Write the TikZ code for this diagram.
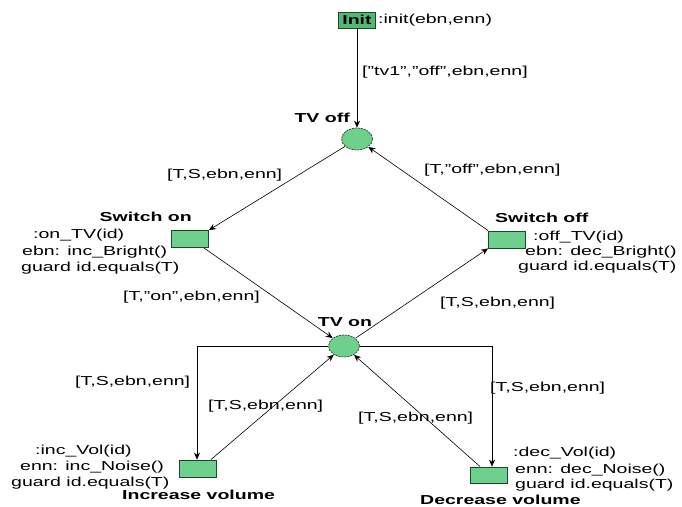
\documentclass[tikz,border=0pt]{standalone}
\usepackage{fontspec}
\setmainfont{Liberation Sans}[FakeStretch=1.5]
\usetikzlibrary{arrows.meta,shapes.geometric}
\definecolor{netgreen}{RGB}{110,208,140}
\definecolor{initgreen}{RGB}{84,184,116}
\definecolor{rimgreen}{RGB}{30,70,40}
\tikzset{
  txt/.style={inner sep=0pt,font=\fontsize{13}{15}\selectfont},
  ttl/.style={txt,font=\fontsize{13}{15}\selectfont\bfseries},
  place/.style={ellipse,draw=rimgreen,line width=0.7pt,fill=netgreen,
    dash pattern=on 2pt off 1pt,
    minimum width=31pt,minimum height=22pt,inner sep=0pt},
  trans/.style={rectangle,draw=rimgreen,line width=0.8pt,fill=netgreen,
    minimum width=37pt,minimum height=17pt,inner sep=0pt},
  arc/.style={draw=black,line width=0.6pt,-{Stealth[length=7pt,width=6pt]}}
}
\begin{document}
\begin{tikzpicture}[x=1pt,y=-1pt]
\useasboundingbox (0,0) rectangle (682,506);

% places
\node[place] (toff) at (357,139) {};
\node[place] (ton)  at (344,346) {};

% transitions
\node[trans,fill=initgreen,minimum height=16pt] (init) at (357,20)
  {\fontsize{13}{15}\selectfont\bfseries Init};
\node[trans] (son)  at (190,239) {};
\node[trans] (soff) at (507,239.5) {};
\node[trans] (inc)  at (198,468.5) {};
\node[trans,minimum height=16pt] (dec) at (489,475) {};

% place titles
\node[ttl,anchor=east] (toffname) at (350,118) {TV off};
\node[ttl] (tonname) at (345,322) {TV on};

% transition inscriptions
\node[txt,anchor=west] (initlbl) at (378,20) {:init(ebn,enn)};

\node[ttl,anchor=east] (sonname) at (192,217) {Switch on};
\node[txt,anchor=west] (son1) at (33,235) {:on\_TV(id)};
\node[txt,anchor=west] (son2) at (22,252) {ebn: inc\_Bright()};
\node[txt,anchor=west] (son3) at (21,268) {guard id.equals(T)};

\node[ttl,anchor=west] (soffname) at (495,218) {Switch off};
\node[txt,anchor=west] (soff1) at (533,237) {:off\_TV(id)};
\node[txt,anchor=west] (soff2) at (525,252) {ebn: dec\_Bright()};
\node[txt,anchor=west] (soff3) at (518,267) {guard id.equals(T)};

\node[txt,anchor=west] (inc1) at (35,451) {:inc\_Vol(id)};
\node[txt,anchor=west] (inc2) at (20,467) {enn: inc\_Noise()};
\node[txt,anchor=west] (inc3) at (11,483) {guard id.equals(T)};
\node[ttl,anchor=west] (incname) at (122,495) {Increase volume};

\node[txt,anchor=west] (dec1) at (513,453) {:dec\_Vol(id)};
\node[txt,anchor=west] (dec2) at (515,470) {enn: dec\_Noise()};
\node[txt,anchor=west] (dec3) at (515,485) {guard id.equals(T)};
\node[ttl,anchor=west] (decname) at (420,500) {Decrease volume};

% arcs
\draw[arc] (init) -- (toff);
\draw[arc] (toff) -- (son.north east);
\draw[arc] (soff.north west) -- (toff);
\draw[arc] ([xshift=-5pt]son.south east) -- (ton);
\draw[arc] (ton) -- (soff.south west);
\draw[arc] (ton.west) -| ([xshift=-1pt]inc.north);
\draw[arc] ([xshift=-6pt]inc.north east) -- (ton);
\draw[arc] (ton.east) -| ([xshift=3pt]dec.north);
\draw[arc] ([xshift=10pt]dec.north west) -- (ton);

% arc inscriptions
\node[txt,anchor=west] (a1) at (362,72) {["tv1","off",ebn,enn]};
\node[txt,anchor=west] (a2) at (167,175) {[T,S,ebn,enn]};
\node[txt,anchor=west] (a3) at (424,170) {[T,"off",ebn,enn]};
\node[txt,anchor=west] (a4) at (123,297) {[T,"on",ebn,enn]};
\node[txt,anchor=west] (a5) at (440,303) {[T,S,ebn,enn]};
\node[txt,anchor=west] (a6) at (75,382) {[T,S,ebn,enn]};
\node[txt,anchor=west] (a7) at (208,406) {[T,S,ebn,enn]};
\node[txt,anchor=west] (a8) at (490,388) {[T,S,ebn,enn]};
\node[txt,anchor=west] (a9) at (358,418) {[T,S,ebn,enn]};
\end{tikzpicture}
\end{document}
